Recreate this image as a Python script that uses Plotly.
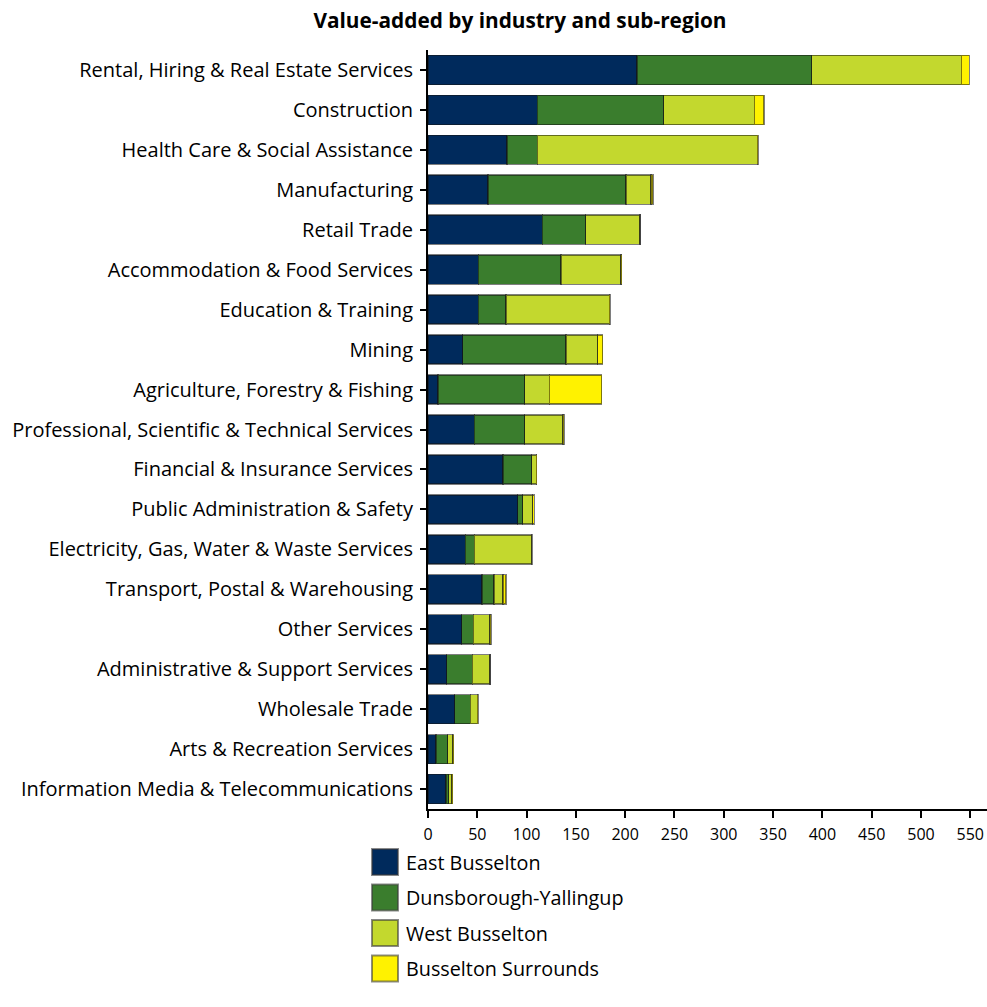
import plotly.graph_objects as go

industries = [
    "Rental, Hiring & Real Estate Services",
    "Construction",
    "Health Care & Social Assistance",
    "Manufacturing",
    "Retail Trade",
    "Accommodation & Food Services",
    "Education & Training",
    "Mining",
    "Agriculture, Forestry & Fishing",
    "Professional, Scientific & Technical Services",
    "Financial & Insurance Services",
    "Public Administration & Safety",
    "Electricity, Gas, Water & Waste Services",
    "Transport, Postal & Warehousing",
    "Other Services",
    "Administrative & Support Services",
    "Wholesale Trade",
    "Arts & Recreation Services",
    "Information Media & Telecommunications",
]

east_busselton = [212, 111, 80, 61, 116, 51, 51, 35, 10, 47, 76, 91, 38, 55, 34, 19, 27, 8, 18]
dunsborough_yallingup = [177, 128, 31, 140, 44, 84, 28, 105, 88, 51, 29, 5, 9, 12, 12, 26, 16, 12, 3]
west_busselton = [152, 92, 223, 25, 55, 61, 105, 32, 25, 39, 5, 10, 58, 9, 17, 18, 7, 5, 3]
busselton_surrounds = [8, 10, 0.5, 2, 0.3, 0.3, 1, 5, 53, 1, 0.3, 2, 0.3, 3, 1, 0.3, 0.5, 1, 1]

series_names = ["East Busselton", "Dunsborough-Yallingup", "West Busselton", "Busselton Surrounds"]
series_values = [east_busselton, dunsborough_yallingup, west_busselton, busselton_surrounds]
series_colors = ["#002a5c", "#3a7d2d", "#c3d82e", "#fff200"]

FONT = "Open Sans"

fig = go.Figure()
for name, vals, col in zip(series_names, series_values, series_colors):
    fig.add_trace(go.Bar(
        y=industries, x=vals, name=name, orientation="h",
        marker=dict(color=col, line=dict(color="rgba(20,20,20,0.55)", width=1.5)),
        showlegend=False,
    ))

# Legend drawn as swatches + labels below the plot
W, H = 987, 1007
ML, MT, MB = 428, 50, 198
leg_x0, leg_y0, leg_step, sw = 372, 862, 35.5, 26


def px_x(x):
    return (x - ML) / (W - ML)


def px_y(y):
    return (H - MB - y) / (H - MT - MB)


for i, (name, col) in enumerate(zip(series_names, series_colors)):
    cy = leg_y0 + i * leg_step
    fig.add_shape(type="rect", xref="paper", yref="paper",
                  x0=px_x(leg_x0), x1=px_x(leg_x0 + sw),
                  y0=px_y(cy + sw / 2), y1=px_y(cy - sw / 2),
                  fillcolor=col, line=dict(color="rgba(60,60,60,0.6)", width=2))
    fig.add_annotation(xref="paper", yref="paper",
                       x=px_x(leg_x0 + sw + 6), y=px_y(cy),
                       text=name, showarrow=False, xanchor="left", yanchor="middle",
                       font=dict(family=FONT, size=19.8, color="black"))

fig.update_layout(
    width=W, height=H,
    margin=dict(l=ML, r=0, t=MT, b=MB),
    barmode="stack", bargap=0.27,
    plot_bgcolor="white", paper_bgcolor="white",
    font=dict(family=FONT, size=20, color="black"),
    title=dict(text="<b>Value-added by industry and sub-region</b>",
               x=520 / W, xref="container", xanchor="center",
               y=1 - 21 / H, yref="container", yanchor="middle",
               font=dict(family=FONT, size=20.8, color="black")),
    xaxis=dict(range=[0, 567], tickvals=list(range(0, 551, 50)),
               showgrid=False, zeroline=False,
               showline=True, linecolor="black", linewidth=2,
               ticks="outside", ticklen=7, tickwidth=2, tickcolor="black",
               ticklabelstandoff=3,
               tickfont=dict(size=16)),
    yaxis=dict(autorange="reversed", showgrid=False,
               showline=True, linecolor="black", linewidth=2,
               ticks="outside", ticklen=6, tickwidth=2, tickcolor="black",
               ticklabelstandoff=3,
               tickfont=dict(size=20)),
)

fig.write_html("out.html")
